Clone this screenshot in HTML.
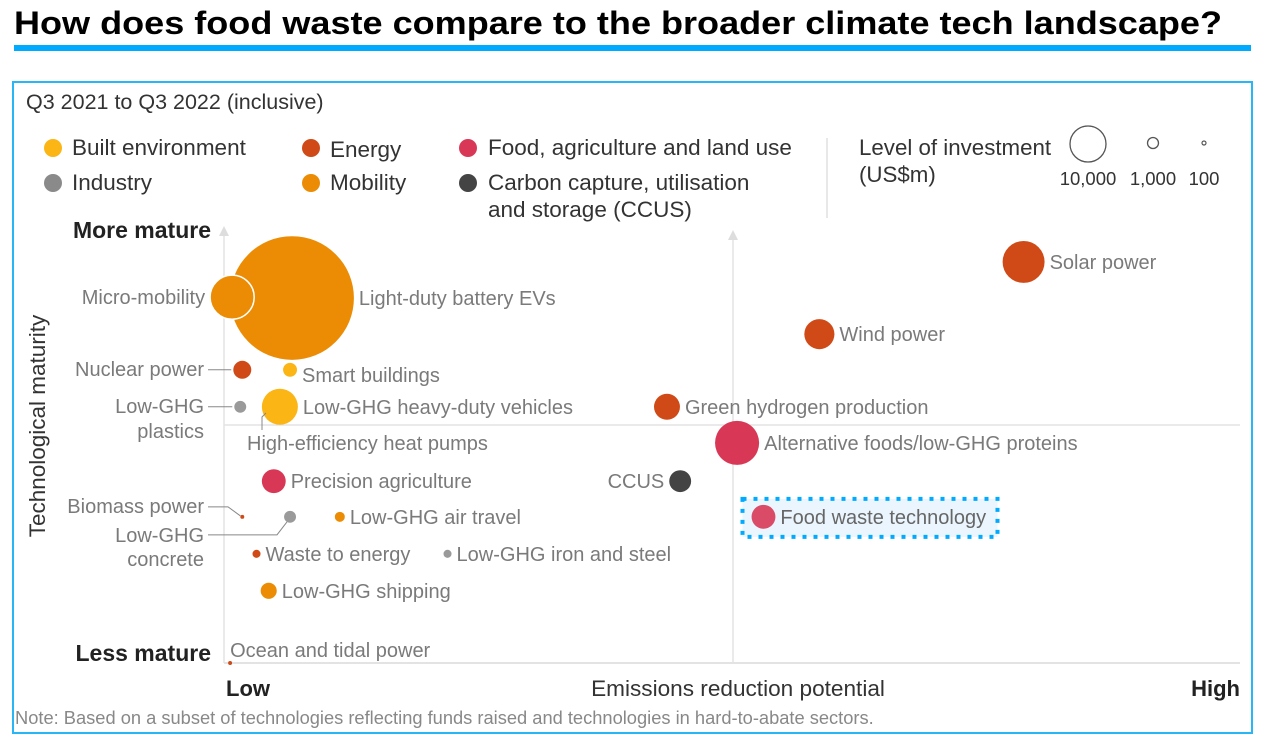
<!DOCTYPE html>
<html><head><meta charset="utf-8">
<style>
body{margin:0;width:1270px;height:748px;background:#fff;overflow:hidden;font-family:"Liberation Sans",sans-serif;}
svg{position:absolute;left:0;top:0;}
</style></head>
<body>
<svg id="chart" width="1270" height="748">
<text x="14" y="34" font-size="32" font-weight="bold" fill="#000" textLength="1208" lengthAdjust="spacingAndGlyphs">How does food waste compare to the broader climate tech landscape?</text>
<rect x="14" y="45" width="1237" height="6" fill="#00aaff"/>
<rect x="13" y="82" width="1239" height="651" fill="none" stroke="#29b6f6" stroke-width="2"/>
<text x="26" y="109" font-size="21.5" fill="#333">Q3 2021 to Q3 2022 (inclusive)</text>
<g font-size="22.5" fill="#333">
<g><circle cx="53" cy="148" r="9" fill="#fbb515"/><text x="72" y="155">Built environment</text></g>
<g><circle cx="53" cy="183" r="9" fill="#8a8a8a"/><text x="72" y="190">Industry</text></g>
<g><circle cx="311" cy="148" r="9" fill="#d04a17"/><text x="330" y="157">Energy</text></g>
<g><circle cx="311" cy="183" r="9" fill="#eb8c04"/><text x="330" y="190">Mobility</text></g>
<g><circle cx="468" cy="148" r="9" fill="#d83856"/><text x="488" y="155">Food, agriculture and land use</text></g>
<g><circle cx="468" cy="183" r="9" fill="#444"/><text x="488" y="190">Carbon capture, utilisation</text><text x="488" y="217">and storage (CCUS)</text></g>
</g>
<line x1="827" y1="138" x2="827" y2="218" stroke="#e0e0e0" stroke-width="1.5"/>
<g>
<text x="859" y="155" font-size="22.3" fill="#333">Level of investment</text>
<text x="859" y="182" font-size="22.3" fill="#333">(US$m)</text>
<circle cx="1088" cy="144" r="18" fill="none" stroke="#555" stroke-width="1.3"/>
<circle cx="1153" cy="143" r="5.5" fill="none" stroke="#555" stroke-width="1.3"/>
<circle cx="1204" cy="143" r="2" fill="none" stroke="#555" stroke-width="1.2"/>
<text x="1088" y="185" font-size="18.5" fill="#333" text-anchor="middle">10,000</text>
<text x="1153" y="185" font-size="18.5" fill="#333" text-anchor="middle">1,000</text>
<text x="1204" y="185" font-size="18.5" fill="#333" text-anchor="middle">100</text>
</g>
<g id="axes"></g>
<g id="marks"></g>
</svg>
<script>
const names=["Light-duty battery EVs","Micro-mobility","Nuclear power","Smart buildings","Low-GHG plastics","Low-GHG heavy-duty vehicles","Precision agriculture","Biomass power","Low-GHG concrete","Low-GHG air travel","Waste to energy","Low-GHG iron and steel","Low-GHG shipping","Ocean and tidal power","Green hydrogen production","Alternative foods/low-GHG proteins","CCUS","Food waste technology","Wind power","Solar power","High-efficiency heat pumps"];
const emissions=[6.7,0.8,1.8,6.5,1.6,5.5,4.9,1.8,6.5,11.4,3.2,22.0,4.4,0.6,43.6,50.5,44.9,53.1,58.6,78.7,5.2];
const maturity=[83.9,84.1,67.4,67.4,58.9,58.9,41.8,33.6,33.6,33.6,25.1,25.1,16.6,0,58.9,50.6,41.8,33.6,75.6,92.2,58.0];
const investment=[118000,15000,2500,1500,1100,10000,4400,120,1100,770,500,500,2000,120,5200,15000,3700,4400,7000,13600,0];
const sectors=["mob","mob","energy","built","ind","built","food","energy","ind","mob","energy","ind","mob","energy","energy","food","ccus","food","energy","energy","built"];
const colors={built:"#fbb515",ind:"#9a9a9a",energy:"#d04a17",mob:"#eb8c04",food:"#d83856",ccus:"#444"};
const midX=50, midY=54.7;
const X0=224,X1=1240,Y0=663,Y1=228;
const xs=v=>X0+(X1-X0)*v/100, ys=v=>Y0-(Y0-Y1)*v/100, rs=v=>0.18*Math.sqrt(v);
const NS="http://www.w3.org/2000/svg";
function mk(t,a,p){const e=document.createElementNS(NS,t);for(const k in a)e.setAttribute(k,a[k]);p.appendChild(e);return e;}
const ax=document.getElementById("axes");
let e;
e=mk("line",{x1:X0,y1:Y0,x2:X1,y2:Y0,stroke:"#e3e3e3","stroke-width":2},ax);


e=mk("line",{x1:X0,y1:Y0,x2:X0,y2:Y1+6,stroke:"#e3e3e3","stroke-width":1.5},ax);


mk("path",{d:`M${X0-5},${Y1+8} L${X0},${Y1-2} L${X0+5},${Y1+8}Z`,fill:"#ddd"},ax);
const xm=xs(midX)+1,ym=ys(midY);
e=mk("line",{x1:xm,y1:Y0,x2:xm,y2:Y1+10,stroke:"#e3e3e3","stroke-width":1.5},ax);


mk("path",{d:`M${xm-5},${Y1+12} L${xm},${Y1+2} L${xm+5},${Y1+12}Z`,fill:"#ddd"},ax);
e=mk("line",{x1:X0,y1:ym,x2:X1,y2:ym,stroke:"#e3e3e3","stroke-width":1.5},ax);


function txt(s,a,name){const t=mk("text",a,ax);t.textContent=s;return t;}
txt("More mature",{x:211,y:238,"font-size":23,"font-weight":"bold",fill:"#222","text-anchor":"end"},"y-axis-top-label");
txt("Less mature",{x:211,y:661,"font-size":23,"font-weight":"bold",fill:"#222","text-anchor":"end"},"y-axis-bottom-label");
txt("Low",{x:226,y:696,"font-size":22,"font-weight":"bold",fill:"#222"},"x-axis-low-label");
txt("High",{x:1240,y:696,"font-size":22,"font-weight":"bold",fill:"#222","text-anchor":"end"},"x-axis-high-label");
txt("Emissions reduction potential",{x:738,y:696,"font-size":22.6,fill:"#333","text-anchor":"middle"},"x-axis-title");
txt("Technological maturity",{x:0,y:0,"font-size":22.5,fill:"#333","text-anchor":"middle",transform:"translate(45,426) rotate(-90)"},"y-axis-title");
txt("Note: Based on a subset of technologies reflecting funds raised and technologies in hard-to-abate sectors.",{x:15,y:724,"font-size":18.3,fill:"#888"},"footnote");
const fw=17;
e=mk("rect",{x:xs(emissions[fw])-21,y:ys(maturity[fw])-18,width:255,height:38,fill:"#eaf5fd",stroke:"#00aaff","stroke-width":4,"stroke-dasharray":"4 7"},ax);


const side=["R","L","L","R","L","R","R","L","L","R","R","R","R","R","R","R","L","R","R","R","B"];
const mg=document.getElementById("marks");
const order=[...names.keys()].sort((a,b)=>investment[b]-investment[a]);
order.forEach(i=>{
 const cx=xs(emissions[i]),cy=ys(maturity[i]),r=rs(investment[i]);
 if(r>0){
  const c=mk("circle",{cx:cx,cy:cy,r:Math.max(r,1.5),fill:colors[sectors[i]],stroke:i==1?"#fff":"none","stroke-width":1.5,opacity:i==17?0.9:1},mg);
  
  
 }
});
const lbl=(s,x,y,anchor,i)=>{const t=mk("text",{x:x,y:y,"font-size":20,fill:i==17?"#666":"#7a7a7a","text-anchor":anchor},mg);t.textContent=s;
 
 return t;};
names.forEach((n,i)=>{
 const cx=xs(emissions[i]),cy=ys(maturity[i]),r=Math.max(rs(investment[i]),1.5);
 const L="#888";
 if(i==2){lbl(n,204,cy+6,"end",i);mk("line",{x1:208,y1:cy,x2:cx-r-2,y2:cy,stroke:L},mg);}
 else if(i==4){lbl("Low-GHG",204,cy+6,"end",i);lbl("plastics",204,cy+31,"end",i);mk("line",{x1:208,y1:cy,x2:cx-r-2,y2:cy,stroke:L},mg);}
 else if(i==7){lbl(n,204,cy-4,"end",i);mk("path",{d:`M208,${cy-10} L228,${cy-10} L${cx-2},${cy-1}`,fill:"none",stroke:L},mg);}
 else if(i==8){lbl("Low-GHG",204,cy+25,"end",i);lbl("concrete",204,cy+49,"end",i);mk("path",{d:`M208,${cy+18} L277,${cy+18} L${cx-3},${cy+5}`,fill:"none",stroke:L},mg);}
 else if(i==20){lbl(n,247,450,"start",i);mk("path",{d:`M262,430 L262,417 L266,413`,fill:"none",stroke:L},mg);}
 else if(i==13){lbl(n,cx,cy-6,"start",i);}
 else if(side[i]=="L"){lbl(n,cx-r-5,cy+7,"end",i);}
 else {const dy=(i==3)?12:7; lbl(n,cx+r+5,cy+dy,"start",i);}
});
</script>
</body></html>
